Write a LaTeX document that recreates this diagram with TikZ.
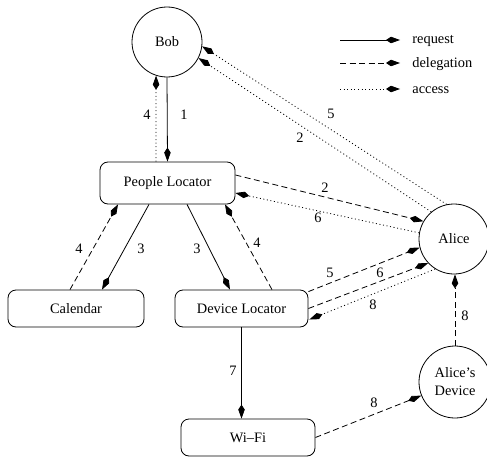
\documentclass[tikz,border=0pt]{standalone}
\usepackage{fontspec}
\setmainfont{Liberation Serif}
\usetikzlibrary{arrows.meta,calc}
\begin{document}
\begin{tikzpicture}[x=1pt,y=-1pt,font=\fontsize{14.4}{18}\selectfont,line width=0.8pt,
  req/.style={-{Kite[length=14pt,width=6.5pt,inset=5pt]}},
  dlg/.style={req,dash pattern=on 6pt off 3.5pt},
  acc/.style={req,dash pattern=on 1pt off 2.6pt},
  circ/.style={draw,circle,inner sep=0pt},
  box/.style={draw,rounded corners=8pt,inner sep=0pt},
  lbl/.style={inner sep=0pt}]
\useasboundingbox (0,0) rectangle (487,460);
% nodes
\node[circ,minimum size=70pt] (bob) at (167,42) {Bob};
\node[box,minimum width=135pt,minimum height=42pt] (pl) at (167.5,183) {People Locator};
\node[box,minimum width=136pt,minimum height=37pt] (cal) at (76,308.5) {Calendar};
\node[box,minimum width=133pt,minimum height=37pt] (dl) at (241.5,308.5) {Device Locator};
\node[box,minimum width=134pt,minimum height=37pt] (wifi) at (248,437.5) {Wi–Fi};
\node[circ,minimum size=70pt] (alice) at (454,239) {Alice};
\node[circ,minimum size=72pt,align=center] (ad) at (455,382) {Alice’s\\Device};
% connectors
\draw[req] (bob.south) -- (pl.north);
\node[lbl] (n1) at (184,115) {1};
\draw[acc] ($(pl.north)+(-11.5,0)$) -- (bob.-108);
\node[lbl] (n4a) at (147,115) {4};
\draw[acc] (alice.102) -- (bob.-7);
\node[lbl] (n5a) at (331,114) {5};
\draw[acc] (alice.130) -- (bob.-27);
\node[lbl] (n2a) at (300,138) {2};
\draw[dlg] ($(pl.east)+(0,-8)$) -- (alice.150);
\node[lbl] (n2b) at (325,188) {2};
\draw[acc] (alice.170) -- ($(pl.east)+(0,10)$);
\node[lbl] (n6a) at (318,218) {6};
\draw[req] ($(pl.south)+(-18.5,0)$) -- ($(cal.north)+(26,0)$);
\node[lbl] (n3a) at (141,249) {3};
\draw[dlg] ($(cal.north)+(-6,0)$) -- ($(pl.south)+(-49.5,0)$);
\node[lbl] (n4b) at (79,249) {4};
\draw[req] ($(pl.south)+(19.5,0)$) -- ($(dl.north)+(-11.5,0)$);
\node[lbl] (n3b) at (197,249) {3};
\draw[dlg] ($(dl.north)+(30.5,0)$) -- ($(pl.south)+(57.5,0)$);
\node[lbl] (n4c) at (257,243) {4};
\draw[dlg] ($(dl.north east)+(0,2)$) -- (alice.-166);
\node[lbl] (n5b) at (330,273) {5};
\draw[dlg] (dl.east) -- (alice.-137);
\node[lbl] (n6b) at (380,273) {6};
\draw[acc] (alice.-122) -- ($(dl.east)+(1,11)$);
\node[lbl] (n8a) at (373,305) {8};
\draw[dlg] (ad.north) -- (ad.north |- alice.south);
\node[lbl] (n8b) at (465,316) {8};
\draw[req] (dl.south) -- (dl.south |- wifi.north);
\node[lbl] (n7) at (233,371) {7};
\draw[dlg] (wifi.east) -- (ad.-158);
\node[lbl] (n8c) at (374,403) {8};
% legend
\coordinate (k1a) at (340,40); \coordinate (k1b) at (400,40);
\coordinate (k2a) at (340,63); \coordinate (k2b) at (400,63);
\coordinate (k3a) at (340,89); \coordinate (k3b) at (400,89);
\draw[req] (k1a) -- (k1b);
\draw[dlg] (k2a) -- (k2b);
\draw[acc] (k3a) -- (k3b);
\node[anchor=west,inner sep=0pt] (t1) at (412,41) {request};
\node[anchor=west,inner sep=0pt] (t2) at (412,64) {delegation};
\node[anchor=west,inner sep=0pt] (t3) at (412,90) {access};
\end{tikzpicture}
\end{document}
